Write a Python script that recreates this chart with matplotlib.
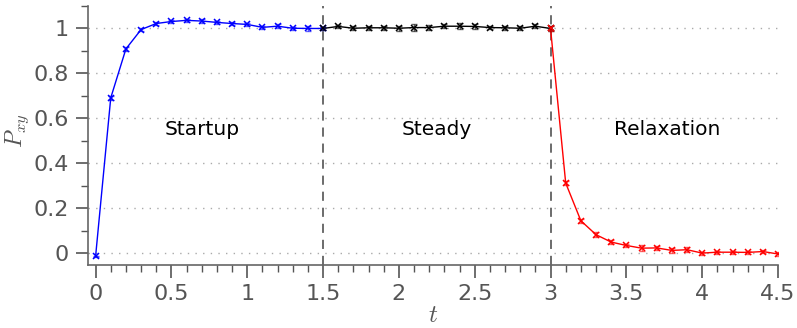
import matplotlib
matplotlib.use("Agg")
import matplotlib.pyplot as plt
from matplotlib.ticker import MultipleLocator, FuncFormatter

plt.rcParams['mathtext.fontset'] = 'cm'
plt.rcParams['font.family'] = ['DejaVu Sans']

# Startup phase
t_start = [0.0, 0.1, 0.2, 0.3, 0.4, 0.5, 0.6, 0.7, 0.8, 0.9, 1.0, 1.1, 1.2, 1.3, 1.4, 1.5]
p_start = [-0.015, 0.691, 0.909, 0.995, 1.022, 1.031, 1.036, 1.033, 1.027, 1.022,
           1.018, 1.005, 1.010, 1.001, 1.000, 1.000]
e_start = [0.004, 0.010, 0.008, 0.007, 0.006, 0.006, 0.007, 0.008, 0.008, 0.007,
           0.008, 0.006, 0.009, 0.006, 0.010, 0.007]

# Steady phase
t_steady = [1.5, 1.6, 1.7, 1.8, 1.9, 2.0, 2.1, 2.2, 2.3, 2.4, 2.5, 2.6, 2.7, 2.8, 2.9, 3.0]
p_steady = [1.000, 1.009, 1.001, 1.003, 1.003, 1.001, 1.004, 1.004, 1.010, 1.010,
            1.009, 1.004, 1.003, 1.001, 1.010, 1.000]
e_steady = [0.007, 0.008, 0.008, 0.010, 0.010, 0.012, 0.016, 0.012, 0.010, 0.013,
            0.010, 0.008, 0.009, 0.010, 0.010, 0.010]

# Relaxation phase
t_relax = [3.0, 3.1, 3.2, 3.3, 3.4, 3.5, 3.6, 3.7, 3.8, 3.9, 4.0, 4.1, 4.2, 4.3, 4.4, 4.5]
p_relax = [1.000, 0.312, 0.144, 0.082, 0.049, 0.034, 0.022, 0.023, 0.012, 0.015,
           0.000, 0.004, 0.004, 0.003, 0.007, -0.004]
e_relax = [0.012, 0.010, 0.010, 0.010, 0.010, 0.008, 0.012, 0.009, 0.010, 0.010,
           0.007, 0.006, 0.007, 0.006, 0.008, 0.010]

phase_labels = ["Startup", "Steady", "Relaxation"]
phase_label_x = [0.70, 2.25, 3.77]
phase_label_y = 0.55
boundaries = [1.5, 3.0]

fig = plt.figure(figsize=(7.97, 3.28), dpi=100)
ax = fig.add_axes([88/797, 1-265/328, (778-88)/797, (265-6)/328])

ax.set_xlim(-0.05, 4.5)
ax.set_ylim(-0.053, 1.1)

for y in [0, 0.2, 0.4, 0.6, 0.8, 1.0]:
    ax.axhline(y, color='#aaaaaa', lw=1.0, ls=(0, (1, 4.5)), zorder=0)

for b in boundaries:
    ax.axvline(b, color='#444444', lw=1.1, ls=(0, (6, 4.5)), zorder=1)

for t, p, e, c in [(t_start, p_start, e_start, 'blue'),
                   (t_steady, p_steady, e_steady, 'black'),
                   (t_relax, p_relax, e_relax, 'red')]:
    ax.plot(t, p, color=c, lw=1.0, zorder=3)
    ax.errorbar(t, p, yerr=e, fmt='none', ecolor=c, elinewidth=1.0, capsize=2.5,
                capthick=1.0, alpha=0.6, zorder=4)
    ax.plot(t, p, ls='none', marker='x', ms=4, mew=1.1, color=c, zorder=5)

for lab, x in zip(phase_labels, phase_label_x):
    ax.text(x, phase_label_y, lab, ha='center', va='center', fontsize=14.5, color='black')

ax.xaxis.set_major_locator(MultipleLocator(0.5))
ax.xaxis.set_minor_locator(MultipleLocator(0.1))
ax.yaxis.set_major_locator(MultipleLocator(0.2))
ax.yaxis.set_minor_locator(MultipleLocator(0.1))
fmt = FuncFormatter(lambda v, pos: ('%g' % round(v, 3)))
ax.xaxis.set_major_formatter(fmt)
ax.yaxis.set_major_formatter(fmt)

for s in ['top', 'right']:
    ax.spines[s].set_visible(False)
for s in ['left', 'bottom']:
    ax.spines[s].set_color('#666666')
    ax.spines[s].set_linewidth(1.2)

ax.tick_params(which='major', direction='out', length=9, width=1.2, color='#555555',
               labelsize=16, labelcolor='#555555', pad=5)
ax.tick_params(which='minor', direction='out', length=5, width=1.0, color='#555555')

ax.set_xlabel('$t$', fontsize=18, color='#555555', labelpad=-1)
ax.set_ylabel('$P_{xy}$', fontsize=17, color='#555555')
ax.yaxis.set_label_coords(-0.083, 0.52)

fig.savefig('out.png', dpi=100)
